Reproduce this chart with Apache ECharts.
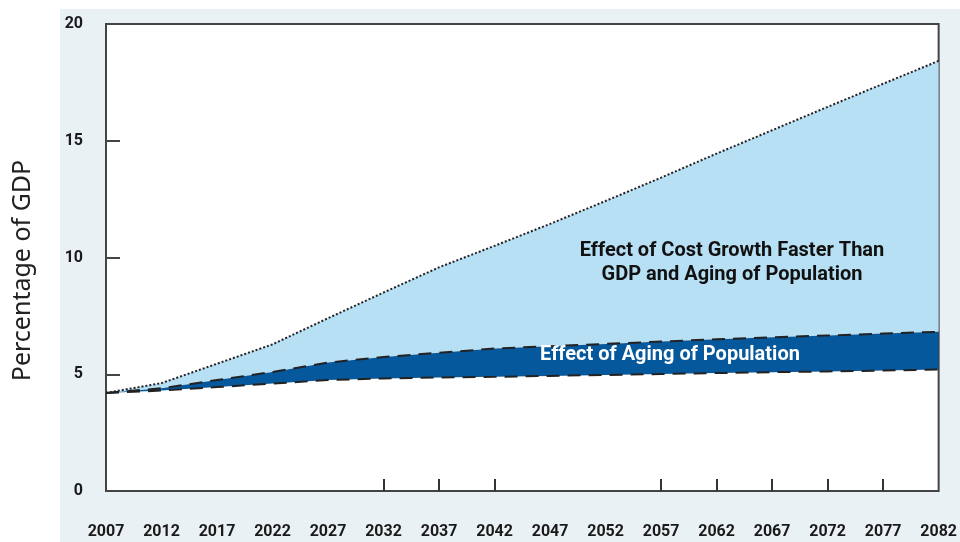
<!DOCTYPE html>
<html>
<head>
<meta charset="utf-8">
<script src="https://cdn.jsdelivr.net/npm/echarts@6/dist/echarts.min.js"></script>
<style>
  html, body { margin: 0; padding: 0; background: #fff; }
  #panel { position: absolute; left: 60px; top: 9px; width: 900px; height: 533px; background: #eaf1f5; }
  #chart { position: absolute; left: 0; top: 0; width: 960px; height: 542px; }
</style>
</head>
<body>
<div id="panel"></div>
<div id="chart"></div>
<script>
// Years on the horizontal axis
const years = ["2007", "2012", "2017", "2022", "2027", "2032", "2037", "2042",
               "2047", "2052", "2057", "2062", "2067", "2072", "2077", "2082"];
// Only these years get a tick mark in the original
const tickYears = ["2032", "2037", "2042", "2057", "2062", "2067", "2072", "2077"];

// Percentage of GDP
const baseline = [4.2, 4.3, 4.45, 4.6, 4.75, 4.82, 4.86, 4.89, 4.93, 4.97, 5.01, 5.05, 5.09, 5.12, 5.16, 5.2];
const agingOnly = [4.2, 4.4, 4.75, 5.1, 5.5, 5.74, 5.92, 6.1, 6.2, 6.3, 6.4, 6.5, 6.58, 6.66, 6.74, 6.82];
const costAndAging = [4.2, 4.62, 5.45, 6.28, 7.4, 8.5, 9.58, 10.5, 11.44, 12.42, 13.42, 14.45, 15.45, 16.45, 17.44, 18.42];

function diff(a, b) {
  return a.map((v, i) => +(v - b[i]).toFixed(3));
}

function initChart() {
  const chart = echarts.init(document.getElementById("chart"));
  const labelFont = { fontFamily: "Roboto", fontWeight: "bold", fontSize: 16, color: "#1a1a1a" };
  const option = {
    animation: false,
    grid: {
      left: 106, top: 24, right: 21, bottom: 51,
      show: true, backgroundColor: "#fff", borderColor: "#444", borderWidth: 2
    },
    xAxis: {
      type: "category",
      data: years,
      boundaryGap: false,
      axisLine: { show: false },
      axisTick: {
        show: true, inside: true, length: 12,
        interval: (index, value) => tickYears.includes(value),
        lineStyle: { color: "#333", width: 2 }
      },
      axisLabel: Object.assign({ margin: 33, interval: 0 }, labelFont),
      splitLine: { show: false }
    },
    yAxis: {
      type: "value",
      min: 0, max: 20, interval: 5,
      name: "Percentage of GDP",
      nameLocation: "middle",
      nameGap: 71,
      nameRotate: 90,
      nameTextStyle: { fontFamily: "Noto Sans", fontSize: 25, color: "#222", padding: [0, 26, 0, 0] },
      axisLine: { show: false },
      axisTick: { show: true, inside: true, length: 14, lineStyle: { color: "#444", width: 2 } },
      axisLabel: Object.assign({ margin: 23 }, labelFont),
      splitLine: { show: false }
    },
    series: [
      {
        name: "Baseline",
        type: "line",
        stack: "gdp",
        data: baseline,
        symbol: "none",
        z: 5,
        lineStyle: { color: "#222", width: 2, type: [13, 8] }
      },
      {
        name: "Effect of Aging of Population",
        type: "line",
        stack: "gdp",
        data: diff(agingOnly, baseline),
        symbol: "none",
        z: 4,
        lineStyle: { color: "#222", width: 2, type: [13, 8] },
        areaStyle: { color: "#06589c", opacity: 1 }
      },
      {
        name: "Effect of Cost Growth Faster Than GDP and Aging of Population",
        type: "line",
        stack: "gdp",
        data: diff(costAndAging, agingOnly),
        symbol: "none",
        z: 3,
        lineStyle: { color: "#222", width: 2, type: [2, 2] },
        areaStyle: { color: "#b8e0f5", opacity: 1 }
      }
    ],
    graphic: [
      {
        type: "text", z: 10,
        style: {
          text: "Effect of Cost Growth Faster Than\nGDP and Aging of Population",
          x: 732, y: 263, textAlign: "center", textVerticalAlign: "middle", lineHeight: 24,
          font: "bold 20px Roboto", fill: "#111"
        }
      },
      {
        type: "text", z: 10,
        style: {
          text: "Effect of Aging of Population",
          x: 670, y: 355, textAlign: "center", textVerticalAlign: "middle",
          font: "bold 20px Roboto", fill: "#fff"
        }
      }
    ]
  };
  chart.setOption(option);
}

document.addEventListener("DOMContentLoaded", initChart);
</script>
</body>
</html>
